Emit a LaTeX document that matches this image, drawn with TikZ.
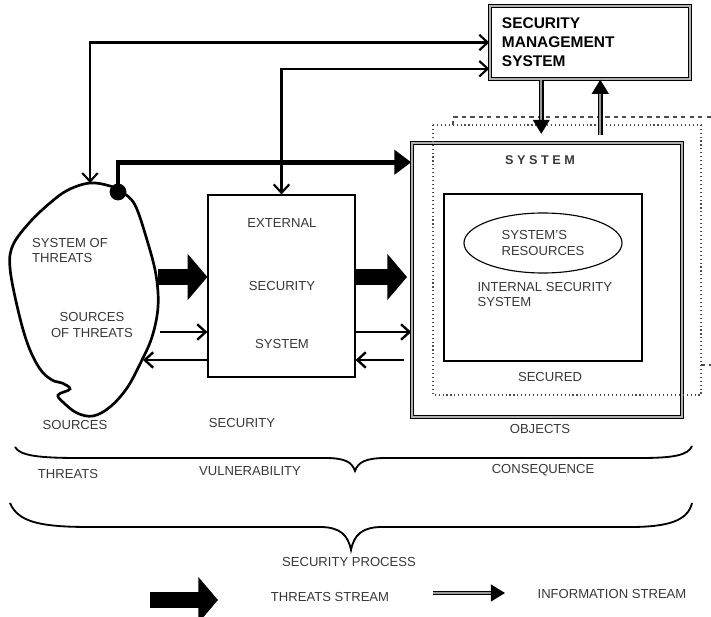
\documentclass[tikz,border=0pt]{standalone}
\usepackage{fontspec}
\setmainfont{Liberation Sans}
\usetikzlibrary{arrows.meta, shapes.geometric, calc, positioning}
\definecolor{textgray}{rgb}{0.22,0.22,0.22}

\begin{document}
\begin{tikzpicture}[x=0.025cm, y=-0.025cm, thick,
  >={Straight Barb[length=6pt,width=11pt]},
  lbl/.style={font=\fontsize{9.3}{11}\selectfont, text=textgray, inner sep=0pt},
  box/.style={draw, line width=0.8pt, inner sep=0pt},
  dbox/.style={draw, double=black!30, double distance=1.4pt, line width=1pt, inner sep=0pt},
  link/.style={line width=1.5pt},
  flow/.style={line width=1.7pt, ->},
  threat/.style={line width=12pt, -{Triangle[length=14pt,width=32pt]}},
  info/.style={double=black!40, double distance=1.5pt, line width=1pt, -{Triangle[length=10pt,width=12pt]}}]
\useasboundingbox (0,0) rectangle (711,617);

% Management system
\node[dbox, minimum width=5cm, minimum height=1.825cm, text width=4.4cm, align=left,
  font=\fontsize{11}{13.5}\selectfont\bfseries] (sms) at (590,42.5) {SECURITY\\MANAGEMENT\\SYSTEM};

% Protected system
\node[dbox, minimum width=6.75cm, minimum height=6.85cm] (sys) at (547,280) {};
\node[font=\fontsize{9}{11}\selectfont\bfseries, text=textgray] (systitle) at (540,160) {S Y S T E M};
\node[box, minimum width=4.95cm, minimum height=4.175cm] (inn) at (543,277.5) {};
\node[ellipse, draw, line width=0.8pt, minimum width=3.95cm, minimum height=1.5cm, lbl, align=left] (res) at (543,243) {SYSTEM'S\\RESOURCES};
\node[lbl, anchor=west, align=left] (iss) at (477,294.5) {INTERNAL SECURITY\\SYSTEM};
\node[lbl] (secured) at (550,377) {SECURED};
\node[lbl] (objects) at (540,429) {OBJECTS};

% Dashed frames
\draw[dotted, line width=0.8pt, black!70] (433,125) rectangle (701,395);
\draw[dashed, line width=0.8pt, black!70] (453,125) -- (453,117) -- (711,117);
\draw[dashed, line width=0.8pt, black!70] (701,365) -- (711,365);

% External security system
\node[box, minimum width=3.675cm, minimum height=4.55cm] (ess) at (281.5,286) {};
\node[lbl] (essa) at (282,223) {EXTERNAL};
\node[lbl] (essb) at (282,286) {SECURITY};
\node[lbl] (essc) at (282,344) {SYSTEM};
\node[lbl] (security) at (242,423) {SECURITY};

% System of threats
\draw[line width=1.9pt] plot[smooth cycle, tension=0.6] coordinates {
  (90,183) (110,186) (122,192) (135,205) (147,240) (156,275) (158,307) (152,337)
  (141,362) (127,388) (110,407) (93,416) (77,413) (64,403) (58,395) (70,389)
  (62,383) (52,380) (40,369) (28,345) (18,310) (10,268) (13,245) (30,222)
  (50,203) (68,190)};
\coordinate (btop) at (90,183);
\coordinate (dot) at (118,192);
\coordinate (bt) at (158,277);
\coordinate (bi) at (160,332);
\coordinate (bo) at (143,360);
\fill (dot) circle (0.21cm);
\node[lbl, align=left] (sot) at (70,250.5) {SYSTEM OF\\THREATS};
\node[lbl, align=center] (srcs) at (92,325) {SOURCES\\OF THREATS};
\node[lbl] (sources) at (75,425) {SOURCES};

% Threats stream
\draw[threat] (bt) -- (bt -| ess.west);
\draw[threat, shorten >=3pt] (ess.east |- bt) -- (sys.west |- bt);
\draw[line width=3.5pt, -{Triangle[length=12pt,width=17pt]}] (dot) |- ($(sys.north west)+(0,20)$);

% Information stream
\draw[flow] (bi) -- (bi -| ess.west);
\draw[flow] (ess.east |- bi) -- (sys.west |- bi);
\draw[flow, shorten <=5pt] (sys.west |- bo) -- (ess.east |- bo);
\draw[flow] (ess.west |- bo) -- (bo);
\draw[link, <->] (btop) |- (sms.west);
\draw[link, <->] (ess.north) |- ($(sms.south west)+(0,-11)$);
\coordinate (dn) at ($(sms.south west)+(52,0)$);
\coordinate (up) at ($(sms.south west)+(111,0)$);
\draw[info, shorten >=6pt] (dn) -- (dn |- sys.north);
\draw[info, shorten <=5pt] (up |- sys.north) -- (up);

% Braces
\draw[line width=1.3pt] (15,447) .. controls (20,456) and (40,458) .. (80,458) -- (325,458)
  .. controls (345,458) and (352,462) .. (355,471) .. controls (358,462) and (366,458) .. (386,458)
  -- (640,458) .. controls (675,458) and (688,455) .. (692,446);
\node[lbl] (threats) at (68,474) {THREATS};
\node[lbl] (vuln) at (250,471) {VULNERABILITY};
\node[lbl] (conseq) at (543,470) {CONSEQUENCE};
\draw[line width=1.3pt] (10,503) .. controls (18,522) and (40,527) .. (90,527) -- (320,527)
  .. controls (340,527) and (348,535) .. (351,550) .. controls (354,535) and (362,527) .. (382,527)
  -- (630,527) .. controls (670,527) and (688,520) .. (692,503);
\node[lbl] (process) at (349,562) {SECURITY PROCESS};

% Legend
\coordinate (lgt) at (150,600);
\coordinate (lgte) at (218,600);
\draw[threat] (lgt) -- (lgte);
\node[lbl] (tstream) at (330,597) {THREATS STREAM};
\coordinate (lgi) at (433,593);
\coordinate (lgie) at (505,593);
\draw[info] (lgi) -- (lgie);
\node[lbl] (istream) at (612,594) {INFORMATION STREAM};
\end{tikzpicture}
\end{document}
